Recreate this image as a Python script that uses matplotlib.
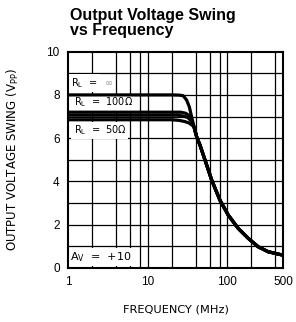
import matplotlib.pyplot as plt
import matplotlib.ticker as mticker

# shared roll-off tail (MHz, Vpp)
tail_f = [38.1, 41.2, 45.3, 52.4, 63.6, 80.7, 102.6, 137, 183, 244, 326, 500]
tail_v = [6.53, 6.06, 5.68, 4.99, 4.06, 3.13, 2.44, 1.82, 1.36, 0.97, 0.74, 0.58]

# flat part + knee for each load
inf_f = [1, 20, 25, 28, 30.8, 33.3, 35.6]
inf_v = [8.0, 8.0, 7.99, 7.96, 7.76, 7.45, 6.99]
r100a_f = [1, 26, 30, 33, 35.5]
r100a_v = [7.2, 7.2, 7.15, 7.05, 6.85]
r100b_f = [1, 24, 28, 32, 35]
r100b_v = [7.06, 7.06, 7.02, 6.95, 6.8]
r50_f = [1, 20, 25, 29, 33, 36]
r50_v = [6.85, 6.85, 6.82, 6.77, 6.7, 6.6]

grid_x = [2, 4, 6, 8, 10, 20, 40, 60, 80, 100, 200, 400]
xticks = [1, 10, 100, 500]
yticks = [0, 2, 4, 6, 8, 10]

fig = plt.figure(figsize=(2.96, 3.22), dpi=100)
ax = fig.add_axes([0.23, 0.1686, 0.726, 0.6708])

for g in grid_x:
    ax.axvline(g, color='black', lw=0.9, zorder=1)
for g in range(1, 10):
    ax.axhline(g, color='black', lw=0.9, zorder=1)

for f, v in [(inf_f, inf_v), (r100a_f, r100a_v), (r100b_f, r100b_v), (r50_f, r50_v)]:
    ax.plot(f + tail_f, v + tail_v, color='black', lw=2.3, zorder=3,
            solid_joinstyle='round')

ax.set_xscale('log')
ax.set_xlim(1, 500)
ax.set_ylim(0, 10)
ax.set_xticks(xticks)
ax.xaxis.set_major_formatter(mticker.FixedFormatter([str(t) for t in xticks]))
ax.xaxis.set_minor_locator(mticker.NullLocator())
ax.set_yticks(yticks)
ax.tick_params(length=0, labelsize=8.5, pad=6)
for lab in ax.get_xticklabels() + ax.get_yticklabels():
    lab.set_family('Liberation Sans')
for s in ax.spines.values():
    s.set_linewidth(1.5)

box = dict(facecolor='white', edgecolor='none', pad=1.5)
t_inf = ax.text(1.1, 8.55, r'R$_\mathrm{L}$  =', fontsize=7, va='center', bbox=box, zorder=2)
ax.annotate('∞', xy=(1, 0.5), xycoords=t_inf, xytext=(5, 0), textcoords='offset points',
            fontsize=7, va='center', ha='left', color='#999999', zorder=2,
            bbox=dict(facecolor='white', edgecolor='none', pad=0.5))
ax.text(1.17, 7.65, r'R$_\mathrm{L}$  =  100Ω', fontsize=7, va='center', bbox=box, zorder=2)
ax.text(1.17, 6.35, r'R$_\mathrm{L}$  =  50Ω', fontsize=7, va='center', bbox=box, zorder=2)
ax.text(1.07, 0.5, r'A$_\mathrm{V}$  =  +10', fontsize=8, va='center', bbox=box, zorder=2)

ax.set_xlabel('FREQUENCY (MHz)', fontsize=8.2, labelpad=12)
ax.set_ylabel(r'OUTPUT VOLTAGE SWING (V$_\mathrm{PP}$)', fontsize=8.5, labelpad=18)

fig.text(0.236, 0.975, 'Output Voltage Swing\nvs Frequency', fontsize=11.5,
         fontweight='bold', family='Liberation Sans', va='top', ha='left',
         linespacing=1.0)

fig.savefig('out.png', dpi=100)
